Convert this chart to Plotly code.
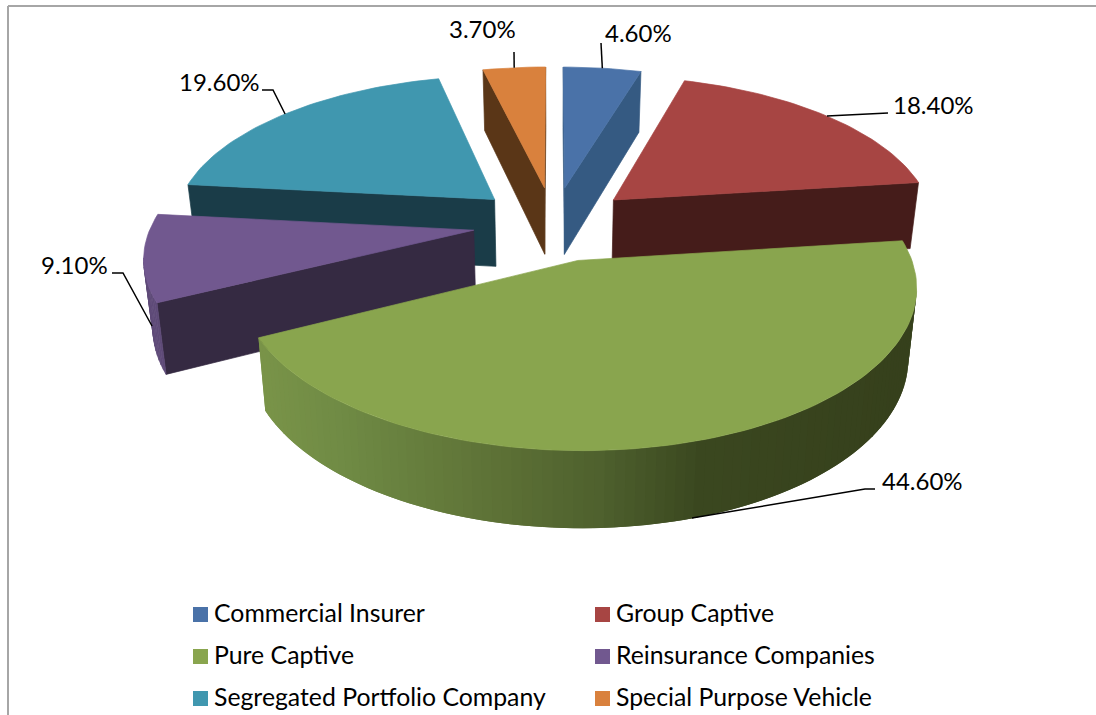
import numpy as np
import plotly.graph_objects as go

categories = ["Commercial Insurer", "Group Captive", "Pure Captive",
              "Reinsurance Companies", "Segregated Portfolio Company", "Special Purpose Vehicle"]
shares = [4.6, 18.4, 44.6, 9.1, 19.6, 3.7]
value_labels = ["4.60%", "18.40%", "44.60%", "9.10%", "19.60%", "3.70%"]

top_colors = ["#4a72a8", "#a74543", "#89a54e", "#71588f", "#4097af", "#d9813d"]
cut_colors = ["#355a82", "#451c1a", "#6f8a44", "#352a42", "#1a3c48", "#5a3617"]
rim_colors = ["#355a82", "#451c1a", None, "#5e4a78", "#1a3c48", "#5a3617"]
draw_order = [4, 5, 0, 1, 3, 2]

# camera of the tilted, exploded pie
CX, CY, SX, SY, PERSP = 553.5, 223.5, 322.0, 149.0, 0.151
EXPLODE, DEPTH, DEPTH_P, BOTTOM_SHRINK = 0.25, 68.0, 0.1, 0.977


def project(X, Y, bottom=False):
    X, Y = np.asarray(X, float), np.asarray(Y, float)
    w = 1 + PERSP * Y
    sx, sy = X / w * SX, CY - SY * Y / w
    if bottom:
        return CX + sx * BOTTOM_SHRINK, sy + DEPTH / (1 + DEPTH_P * Y)
    return CX + sx, sy


def front_facing(a, b, inner):
    d = (b[0] - a[0], b[1] - a[1])
    m = (inner[0] - a[0], inner[1] - a[1])
    return (d[0] * m[1] - d[1] * m[0]) * d[0] <= 0


def mix(stops, x):
    xs = [s[0] for s in stops]
    ch = [np.interp(x, xs, [int(s[1][i:i + 2], 16) for s in stops]) for i in (1, 3, 5)]
    return "rgb(%d,%d,%d)" % tuple(ch)


GREEN_RAMP = [(258, "#7a9449"), (340, "#708b45"), (500, "#5d7136"), (600, "#4f612e"),
              (700, "#3b4820"), (918, "#36401c")]

fig = go.Figure()


def poly(xs, ys, color, width=0.7):
    fig.add_trace(go.Scatter(x=list(xs) + [xs[0]], y=list(ys) + [ys[0]], mode="lines", fill="toself",
                             fillcolor=color, line=dict(color=color, width=width),
                             hoverinfo="skip", showlegend=False))


edges = np.cumsum([0] + shares) / sum(shares) * 2 * np.pi
anchors = {}
for i in draw_order:
    t0, t1 = edges[i], edges[i + 1]
    mid = (t0 + t1) / 2
    ax, ay = EXPLODE * np.sin(mid), EXPLODE * np.cos(mid)
    th = np.linspace(t0, t1, max(8, int(shares[i] * 2.4)))
    rx, ry = ax + np.sin(th), ay + np.cos(th)
    tx, ty = project(rx, ry)
    bx, by = project(rx, ry, True)
    atx, aty = project(ax, ay)
    abx, aby = project(ax, ay, True)
    mx, my = project(ax + np.sin(mid), ay + np.cos(mid))
    anchors[i] = (float(mx), float(my))
    for j in (0, -1):
        if front_facing((atx, aty), (tx[j], ty[j]), (mx, my)):
            poly([atx, tx[j], bx[j], abx], [aty, ty[j], by[j], aby], cut_colors[i])
    n = len(th)
    for k in range(n - 1):
        if front_facing((tx[k], ty[k]), (tx[k + 1], ty[k + 1]), (atx, aty)):
            if rim_colors[i]:
                poly([tx[k], tx[k + 1], bx[k + 1], bx[k]], [ty[k], ty[k + 1], by[k + 1], by[k]], rim_colors[i])
            else:
                # overlap the next strip so that no seam shows in the shading
                e = min(k + 3, n)
                col = mix(GREEN_RAMP, (tx[k] + tx[k + 1]) / 2)
                xs = list(tx[k:e]) + list(bx[k:e][::-1])
                ys = list(ty[k:e]) + list(by[k:e][::-1])
                poly(xs, ys, col, 0)
    poly([atx] + list(tx), [aty] + list(ty), top_colors[i])

# leader elbows and label centres, per slice
label_xy = [(638, 32.5), (933, 104.5), (922, 480), (74, 264.5), (219, 81.5), (482, 28)]
elbows = [[(601, 43)], [(888, 113)], [(875, 489), (865, 489)], [(112, 273), (123, 273)],
          [(262, 90), (273, 90)], [(514, 52)]]
anchors[2] = (692, 518)
anchors[3] = (152, 326)
for i, pts in enumerate(elbows):
    xs = [p[0] for p in pts] + [anchors[i][0]]
    ys = [p[1] for p in pts] + [anchors[i][1]]
    fig.add_trace(go.Scatter(x=xs, y=ys, mode="lines", line=dict(color="#000000", width=1.5),
                             hoverinfo="skip", showlegend=False))
    fig.add_annotation(x=label_xy[i][0], y=label_xy[i][1], text=value_labels[i], showarrow=False,
                       font=dict(family="Lato", size=24, color="#000000"))

# two-column legend
leg_x = [200.5, 602.5]
leg_y = [614.5, 656.5, 698.5]
for i, name in enumerate(categories):
    col, row = i % 2, i // 2
    fig.add_trace(go.Scatter(x=[leg_x[col]], y=[leg_y[row]], mode="markers", name=name,
                             marker=dict(symbol="square", size=15, color=top_colors[i]),
                             hoverinfo="skip", showlegend=False))
    fig.add_annotation(x=leg_x[col] + 11, y=leg_y[row] - 2, text=name, showarrow=False, xanchor="left",
                       font=dict(family="Lato", size=24.8, color="#000000"))

fig.update_layout(
    width=1096, height=715, autosize=False, margin=dict(l=0, r=0, t=0, b=0),
    paper_bgcolor="white", plot_bgcolor="white", showlegend=False,
    xaxis=dict(visible=False, range=[0, 1096], fixedrange=True),
    yaxis=dict(visible=False, range=[715, 0], fixedrange=True),
    shapes=[
        dict(type="line", x0=8, x1=8, y0=6, y1=715, line=dict(color="#a6a6a6", width=2)),
        dict(type="line", x0=8, x1=1096, y0=6, y1=6, line=dict(color="#a6a6a6", width=2)),
    ],
)
fig.write_html("out.html", config={"displayModeBar": False},
               post_script="document.body.style.margin='0';document.body.style.overflow='hidden';")
